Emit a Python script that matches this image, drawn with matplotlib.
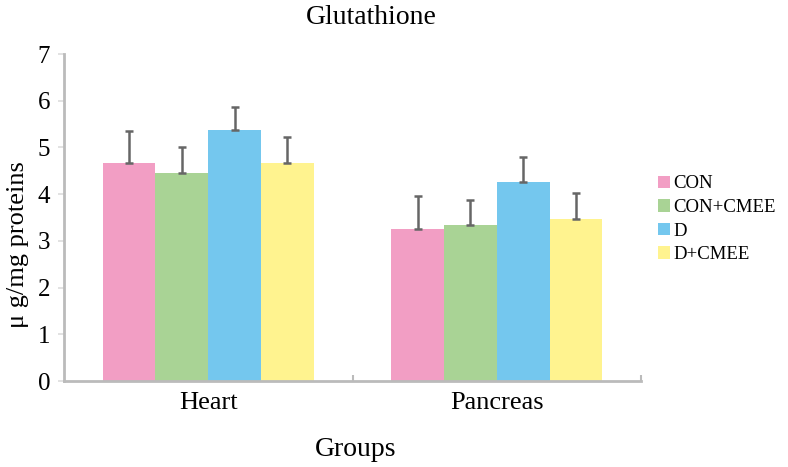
import matplotlib
matplotlib.use("Agg")
import matplotlib.pyplot as plt
import numpy as np

categories = ["Heart", "Pancreas"]
series = ["CON", "CON+CMEE", "D", "D+CMEE"]
means = {
    "CON": [4.67, 3.25],
    "CON+CMEE": [4.45, 3.34],
    "D": [5.37, 4.26],
    "D+CMEE": [4.67, 3.47],
}
errors = {
    "CON": [0.68, 0.71],
    "CON+CMEE": [0.55, 0.54],
    "D": [0.50, 0.54],
    "D+CMEE": [0.55, 0.56],
}
colors = ["#F29EC4", "#A9D395", "#74C7EE", "#FFF38F"]
yticks = [0, 1, 2, 3, 4, 5, 6, 7]

plt.rcParams['font.family'] = ['Liberation Serif', 'DejaVu Serif']

W, H = 788, 467
fig = plt.figure(figsize=(W / 100, H / 100), dpi=100)
ax = fig.add_axes([64 / W, 1 - 381 / H, (641 - 64) / W, (381 - 54) / H])

n = len(series)
bw = 0.183
x = np.arange(len(categories))
for i, s in enumerate(series):
    pos = x + (i - (n - 1) / 2) * bw
    ax.bar(pos, means[s], width=bw, color=colors[i], label=s, zorder=2)
    ax.errorbar(pos, means[s], yerr=[[0] * len(categories), errors[s]], fmt="none",
                ecolor="#666666", elinewidth=1.8, capsize=3, capthick=1.8, zorder=3)

ax.set_xlim(-0.5, len(categories) - 0.5)
ax.set_ylim(0, 7)
ax.set_yticks(yticks)
ax.set_yticklabels([str(t) for t in yticks], fontsize=18)
ax.set_xticks([0.5, 1.5], minor=False)
ax.set_xticklabels([])
ax.set_xticks(x, minor=True)
ax.set_xticklabels(categories, minor=True, fontsize=19)
ax.tick_params(axis="x", which="minor", length=0, pad=8)
ax.tick_params(axis="x", which="major", length=4, color="#BBBBBB", width=1.5, direction="in")
ax.tick_params(axis="y", length=4, color="#DDDDDD", width=1.2, pad=6)

for side in ["top", "right"]:
    ax.spines[side].set_visible(False)
for side in ["left", "bottom"]:
    ax.spines[side].set_color("#BBBBBB")
    ax.spines[side].set_linewidth(2)

fig.text(18 / W, 1 - 245 / H, "μ g/mg proteins", fontsize=19, rotation=90, ha="center", va="center")
fig.text(356 / W, 1 - 450 / H, "Groups", fontsize=20, ha="center", va="center")
fig.text(371 / W, 1 - 17 / H, "Glutathione", fontsize=20, ha="center", va="center")

leg = ax.legend(loc="upper left", bbox_to_anchor=(650 / W, 1 - 168 / H), bbox_transform=fig.transFigure,
                frameon=False, fontsize=13.5, handlelength=0.65, handleheight=0.65,
                handletextpad=0.2, labelspacing=0.35, borderaxespad=0)

fig.savefig("out.png", dpi=100)
